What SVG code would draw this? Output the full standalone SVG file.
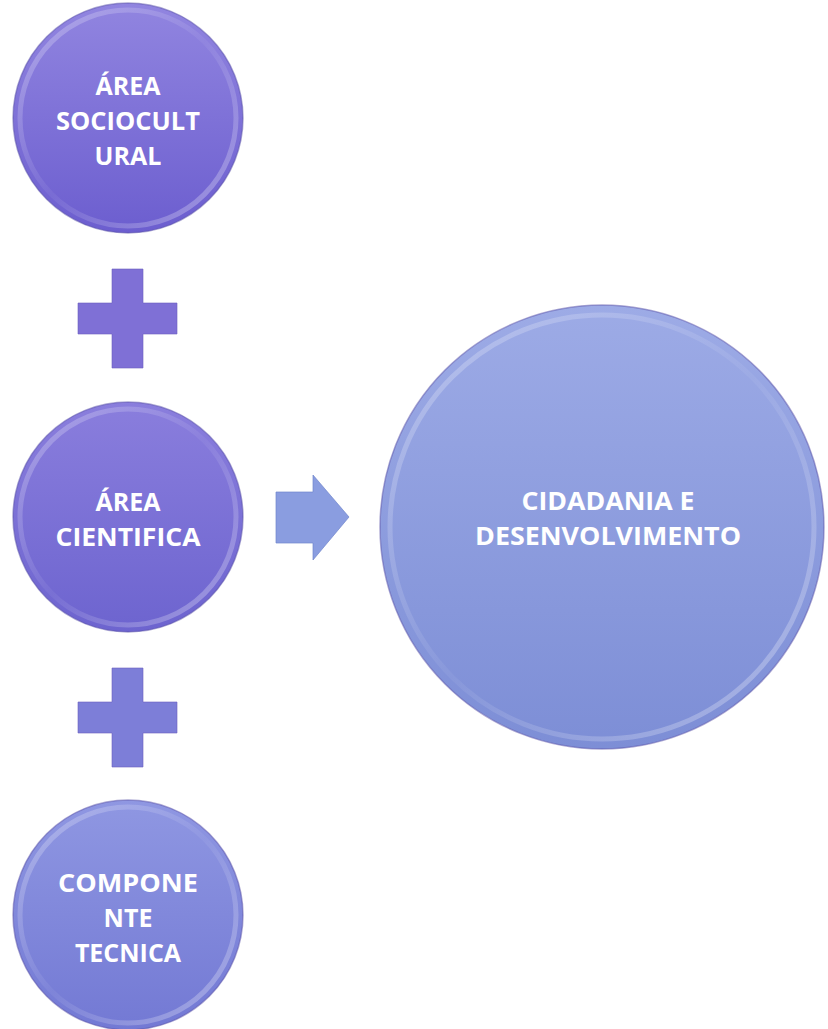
<svg xmlns="http://www.w3.org/2000/svg" width="828" height="1029" viewBox="0 0 828 1029">
<defs>
<linearGradient id="g1" x1="0" y1="0" x2="0" y2="1"><stop offset="0" stop-color="#9185e0"/><stop offset="1" stop-color="#6c5ecf"/></linearGradient>
<linearGradient id="g2" x1="0" y1="0" x2="0" y2="1"><stop offset="0" stop-color="#8a7edd"/><stop offset="1" stop-color="#6d64cf"/></linearGradient>
<linearGradient id="g3" x1="0" y1="0" x2="0" y2="1"><stop offset="0" stop-color="#8f97e2"/><stop offset="1" stop-color="#7379d4"/></linearGradient>
<linearGradient id="g4" x1="0" y1="0" x2="0" y2="1"><stop offset="0" stop-color="#9dabe6"/><stop offset="1" stop-color="#7d8ed6"/></linearGradient>
<linearGradient id="rim" x1="0" y1="0" x2="1" y2="1"><stop offset="0" stop-color="#ffffff" stop-opacity="0.3"/><stop offset="0.5" stop-color="#ffffff" stop-opacity="0.05"/><stop offset="1" stop-color="#ffffff" stop-opacity="0.35"/></linearGradient>
</defs>
<style>
.edge{stroke:#5a52a8;stroke-opacity:0.5;stroke-width:1.5}
.rim{fill:none;stroke:url(#rim);stroke-width:5}
.lbl{font-family:"Open Sans","Liberation Sans",sans-serif;font-weight:bold;font-size:25px;fill:#ffffff;text-anchor:middle}
.plus{stroke:#6a5fc0;stroke-opacity:0.6;stroke-width:1}
</style>
<g id="node-sociocultural">
<circle cx="128" cy="118" r="115" fill="url(#g1)" class="edge"/>
<circle cx="128" cy="118" r="108" class="rim"/>
<text class="lbl" x="128" y="95">ÁREA</text>
<text class="lbl" x="128" y="130" textLength="144" lengthAdjust="spacingAndGlyphs">SOCIOCULT</text>
<text class="lbl" x="128" y="165">URAL</text>
</g>
<g id="node-cientifica">
<circle cx="128" cy="517" r="115" fill="url(#g2)" class="edge"/>
<circle cx="128" cy="517" r="108" class="rim"/>
<text class="lbl" x="128" y="511">ÁREA</text>
<text class="lbl" x="128" y="546" textLength="145" lengthAdjust="spacingAndGlyphs">CIENTIFICA</text>
</g>
<g id="node-tecnica">
<circle cx="128" cy="915" r="115" fill="url(#g3)" class="edge"/>
<circle cx="128" cy="915" r="108" class="rim"/>
<text class="lbl" x="128" y="892" textLength="140" lengthAdjust="spacingAndGlyphs">COMPONE</text>
<text class="lbl" x="128" y="927">NTE</text>
<text class="lbl" x="128" y="962">TECNICA</text>
</g>
<g id="node-cidadania">
<circle cx="602" cy="527" r="222" fill="url(#g4)" class="edge"/>
<circle cx="602" cy="527" r="212" class="rim" stroke-width="7"/>
<text class="lbl" x="608" y="510" textLength="173" lengthAdjust="spacingAndGlyphs">CIDADANIA E</text>
<text class="lbl" x="608" y="545" textLength="266" lengthAdjust="spacingAndGlyphs">DESENVOLVIMENTO</text>
</g>
<g id="connectors">
<path class="plus" fill="#7f70d6" d="M112,269 H143 V303 H177 V334 H143 V368 H112 V334 H78 V303 H112 Z"/>
<path class="plus" fill="#7d7ed8" d="M112,668 H143 V702 H177 V733 H143 V767 H112 V733 H78 V702 H112 Z"/>
<path fill="#8a9de0" stroke="#7086cc" stroke-opacity="0.7" d="M276,492 H313 V475 L349,517 L313,560 V543 H276 Z"/>
</g>
</svg>
